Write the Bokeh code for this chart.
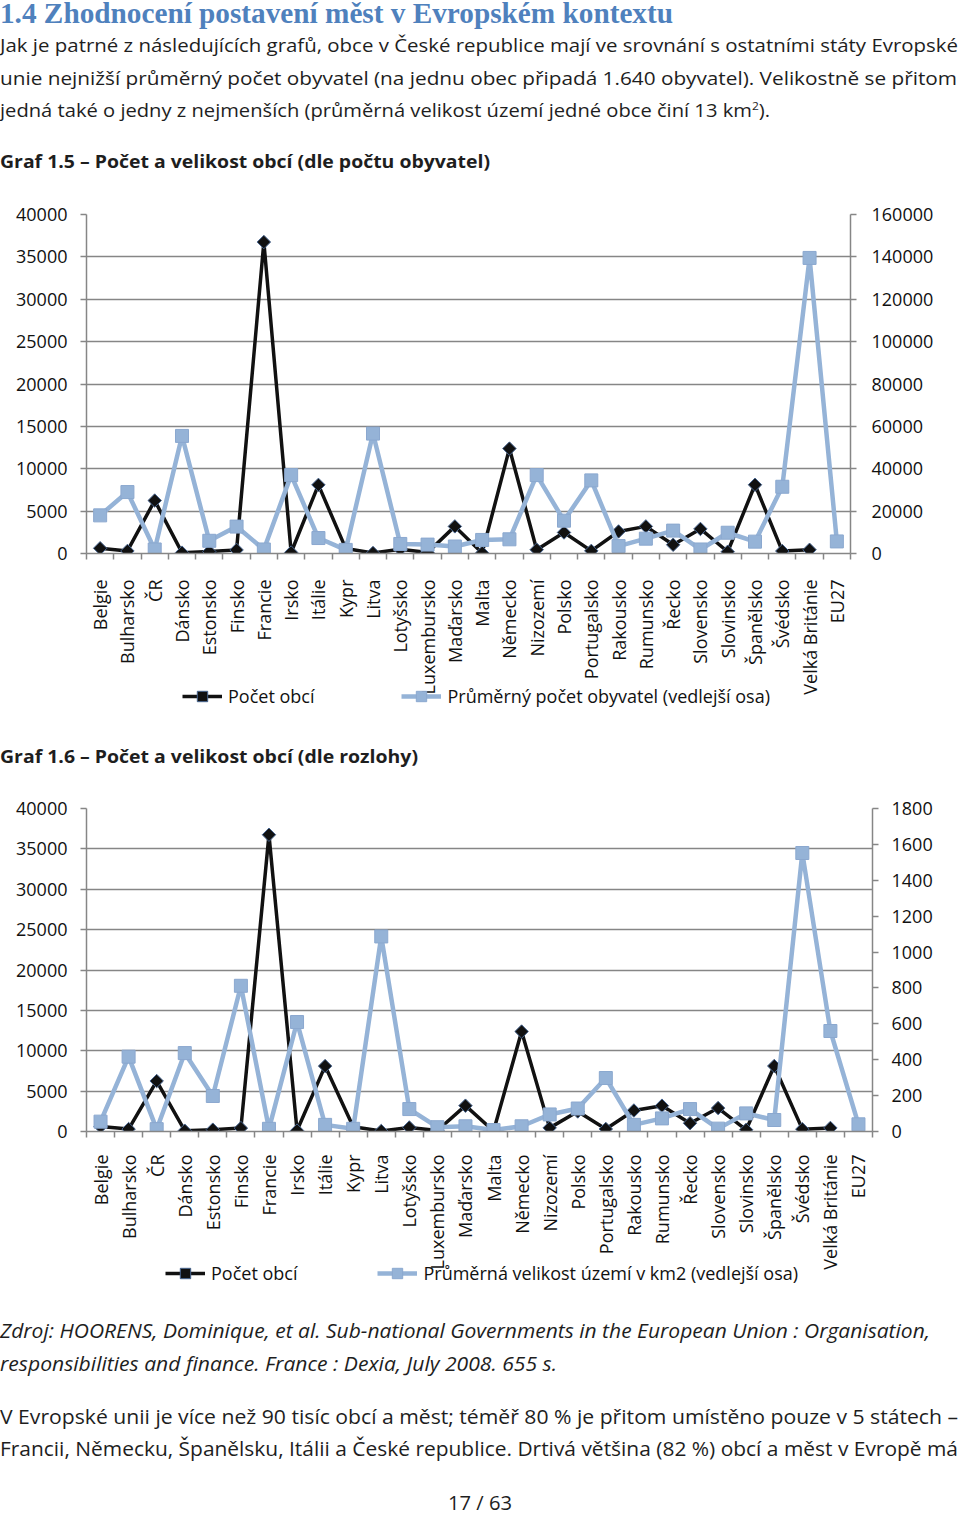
import math
from bokeh.plotting import figure
from bokeh.models import (Div, Range1d, LinearAxis, FixedTicker, Grid, Legend, LegendItem,
                          ColumnDataSource, BasicTickFormatter)
from bokeh.layouts import column
from bokeh.embed import file_html
from bokeh.resources import INLINE

# ---------------- data ----------------
categories = ["Belgie", "Bulharsko", "ČR", "Dánsko", "Estonsko", "Finsko", "Francie", "Irsko",
              "Itálie", "Kypr", "Litva", "Lotyšsko", "Luxembursko", "Maďarsko", "Malta", "Německo",
              "Nizozemí", "Polsko", "Portugalsko", "Rakousko", "Rumunsko", "Řecko", "Slovensko",
              "Slovinsko", "Španělsko", "Švédsko", "Velká Británie", "EU27"]

pocet_obci = [620, 300, 6250, 100, 230, 420, 36750, 115, 8100, 600, 60, 500, 116, 3200, 68,
              12380, 450, 2480, 310, 2600, 3200, 1030, 2900, 210, 8110, 290, 440, None]

prumer_obyvatel = [18000, 29000, 1900, 55500, 6000, 12700, 1900, 37000, 7300, 1700, 56600, 4500,
                   4200, 3300, 6400, 6700, 37000, 15500, 34500, 3500, 7000, 10800, 1900, 9800,
                   5600, 31500, 139500, 5700]

prumer_rozloha = [55, 417, 13, 437, 198, 812, 15, 610, 37, 15, 1087, 125, 24, 29, 8, 29, 95, 128,
                  298, 37, 73, 125, 16, 101, 64, 1552, 560, 40]

left_ticks = [0, 5000, 10000, 15000, 20000, 25000, 30000, 35000, 40000]
right_ticks_1 = [0, 20000, 40000, 60000, 80000, 100000, 120000, 140000, 160000]
right_ticks_2 = [0, 200, 400, 600, 800, 1000, 1200, 1400, 1600, 1800]

series_1 = "Počet obcí"
series_2a = "Průměrný počet obyvatel (vedlejší osa)"
series_2b = "Průměrná velikost území v km2 (vedlejší osa)"

GRID = "#868686"
BLUE = "#95B3D7"
BLACK = "#111111"
FONT = "Open Sans"
W = 960

LINE1 = dict(line_color=BLACK, line_width=3.5, line_join="round")
MARK1 = dict(marker="square", angle=math.pi / 4, size=9.5, fill_color=BLACK,
             line_color="#46648f", line_width=1)
LINE2 = dict(line_color=BLUE, line_width=4.5, line_join="round")
MARK2 = dict(marker="square", size=13, fill_color=BLUE, line_color="#8ba8cf", line_width=1)


def make_source(right_vals):
    return ColumnDataSource(dict(
        x=list(range(1, len(categories) + 1)),
        obce=[float("nan") if v is None else v for v in pocet_obci],
        r=right_vals))


def chart(right_vals, right_ticks, height, top, bottom, rmin, rstand, xstand):
    n = len(categories)
    xs = list(range(1, n + 1))
    src = make_source(right_vals)
    p = figure(width=W, height=height, x_range=Range1d(0.5, n + 0.5),
               y_range=Range1d(0, left_ticks[-1]), x_axis_type=None, y_axis_type=None,
               toolbar_location=None, output_backend="svg",
               min_border_left=86, min_border_right=rmin, min_border_top=top,
               min_border_bottom=bottom, outline_line_color=None,
               background_fill_color="white", border_fill_color="white")
    p.extra_y_ranges = {"r": Range1d(0, right_ticks[-1])}

    lt = FixedTicker(ticks=left_ticks)
    p.add_layout(Grid(dimension=1, ticker=lt, grid_line_color=GRID, grid_line_width=1.5))

    def style(ax, standoff):
        ax.axis_line_color = GRID
        ax.axis_line_width = 1.5
        ax.major_tick_line_color = GRID
        ax.major_tick_line_width = 1.5
        ax.major_tick_out = 6
        ax.major_tick_in = 0
        ax.minor_tick_line_color = None
        ax.major_label_text_font = FONT
        ax.major_label_text_font_size = "18px"
        ax.major_label_text_color = BLACK
        ax.major_label_standoff = standoff

    ly = LinearAxis(ticker=lt, formatter=BasicTickFormatter(use_scientific=False))
    style(ly, 13)
    p.add_layout(ly, "left")

    ry = LinearAxis(y_range_name="r", ticker=FixedTicker(ticks=right_ticks),
                    formatter=BasicTickFormatter(use_scientific=False))
    style(ry, rstand)
    p.add_layout(ry, "right")

    bx = LinearAxis(ticker=FixedTicker(ticks=xs, minor_ticks=[i + 0.5 for i in range(0, n + 1)]),
                    major_label_overrides={i + 1: c for i, c in enumerate(categories)})
    style(bx, xstand)
    bx.major_tick_out = 0
    bx.major_tick_line_color = None
    bx.minor_tick_line_color = GRID
    bx.minor_tick_line_width = 1.5
    bx.minor_tick_out = 6
    bx.minor_tick_in = 0
    bx.major_label_orientation = math.pi / 2
    p.add_layout(bx, "below")

    p.line("x", "obce", source=src, **LINE1)
    p.scatter("x", "obce", source=src, **MARK1)
    p.line("x", "r", source=src, y_range_name="r", **LINE2)
    p.scatter("x", "r", source=src, y_range_name="r", **MARK2)
    return p


def legend_fig(right_vals, label2, rmin, x0, spacing, shift):
    # the legend sits in its own strip; its renderers hold the same series,
    # kept outside the strip's visible ranges so only the legend shows
    src = make_source(right_vals)
    q = figure(width=W, height=26, x_range=Range1d(-10, -5), y_range=Range1d(-10, -5),
               x_axis_type=None, y_axis_type=None, toolbar_location=None,
               output_backend="svg", min_border_left=86, min_border_right=rmin,
               min_border_top=0, min_border_bottom=0, outline_line_color=None,
               background_fill_alpha=0, border_fill_alpha=0, margin=(shift, 0, 0, 0))
    a = q.line("x", "obce", source=src, **LINE1)
    b = q.scatter("x", "obce", source=src, **MARK1)
    c = q.line("x", "r", source=src, **LINE2)
    d = q.scatter("x", "r", source=src, **MARK2)
    leg = Legend(items=[LegendItem(label=series_1, renderers=[a, b]),
                        LegendItem(label=label2, renderers=[c, d])],
                 orientation="horizontal", location=(x0, 0),
                 glyph_width=40, glyph_height=26, label_height=26, label_standoff=6,
                 spacing=spacing, padding=0, margin=0, border_line_color=None,
                 background_fill_alpha=0, label_text_font=FONT,
                 label_text_font_size="18px", label_text_color=BLACK)
    q.add_layout(leg)
    return q


def svg_text(x, y, txt, length, size, family=FONT, weight="normal", style="normal",
             color="#1e1e1e", anchor="start"):
    css = (f"font-family:'{family}';font-size:{size}px;font-weight:{weight};"
           f"font-style:{style};fill:{color}")
    return (f'<text x="{x}" y="{y}" textLength="{length}" lengthAdjust="spacingAndGlyphs" '
            f'text-anchor="{anchor}" style="{css}">{txt}</text>')


def svg_div(h, parts):
    body = "".join(parts)
    html = (f'<svg xmlns="http://www.w3.org/2000/svg" width="{W}" height="{h}" '
            f'style="display:block;overflow:visible">{body}</svg>')
    return Div(text=html, width=W, height=h, margin=(0, 0, 0, 0))


heading = "1.4 Zhodnocení postavení měst v Evropském kontextu"
para_1 = [
    "Jak je patrné z následujících grafů, obce v České republice mají ve srovnání s ostatními státy Evropské",
    "unie nejnižší průměrný počet obyvatel (na jednu obec připadá 1.640 obyvatel). Velikostně se přitom",
]
para_1_last = 'jedná také o jedny z nejmenších (průměrná velikost území jedné obce činí 13 km<tspan baseline-shift="super" style="font-size:11px">2</tspan>).'
graf_15 = "Graf 1.5 – Počet a velikost obcí (dle počtu obyvatel)"
graf_16 = "Graf 1.6 – Počet a velikost obcí (dle rozlohy)"
zdroj = ["Zdroj: HOORENS, Dominique, et al. Sub-national Governments in the European Union : Organisation,",
         "responsibilities and finance. France : Dexia, July 2008. 655 s."]
para_2 = ["V Evropské unii je více než 90 tisíc obcí a měst; téměř 80 % je přitom umístěno pouze v 5 státech –",
          "Francii, Německu, Španělsku, Itálii a České republice. Drtivá většina (82 %) obcí a měst v Evropě má"]
strana = "17 / 63"

div1 = svg_div(195, [
    svg_text(0, 23, heading, 673, 29, family="Liberation Serif", weight="bold", color="#4F81BD"),
    svg_text(0, 52, para_1[0], 958, 18.5),
    svg_text(0, 85, para_1[1], 957, 18.5),
    svg_text(0, 117, para_1_last, 770, 18.5),
    svg_text(0, 168, graf_15, 490, 18.5, weight="bold"),
])

p1 = chart(prumer_obyvatel, right_ticks_1, height=502, top=19, bottom=140, rmin=110,
           rstand=15, xstand=20)
leg1 = legend_fig(prumer_obyvatel, series_2a, 110, 96, 87, -14)

div2 = svg_div(81, [svg_text(0, 54, graf_16, 418, 18.5, weight="bold")])

p2 = chart(prumer_rozloha, right_ticks_2, height=482, top=18, bottom=137, rmin=88,
           rstand=13, xstand=17)
leg2 = legend_fig(prumer_rozloha, series_2b, 88, 79, 80, -12)

div3 = svg_div(229, [
    svg_text(0, 52, zdroj[0], 930, 19.5, style="italic"),
    svg_text(0, 85, zdroj[1], 557, 19.5, style="italic"),
    svg_text(0, 138, para_2[0], 958, 19.5),
    svg_text(0, 170, para_2[1], 958, 19.5),
    svg_text(480, 224, strana, 64, 19.5, anchor="middle"),
])

layout = column(div1, column(p1, leg1, spacing=0), div2, column(p2, leg2, spacing=0), div3,
                spacing=0)

with open("out.html", "w", encoding="utf-8") as f:
    f.write(file_html(layout, INLINE))
